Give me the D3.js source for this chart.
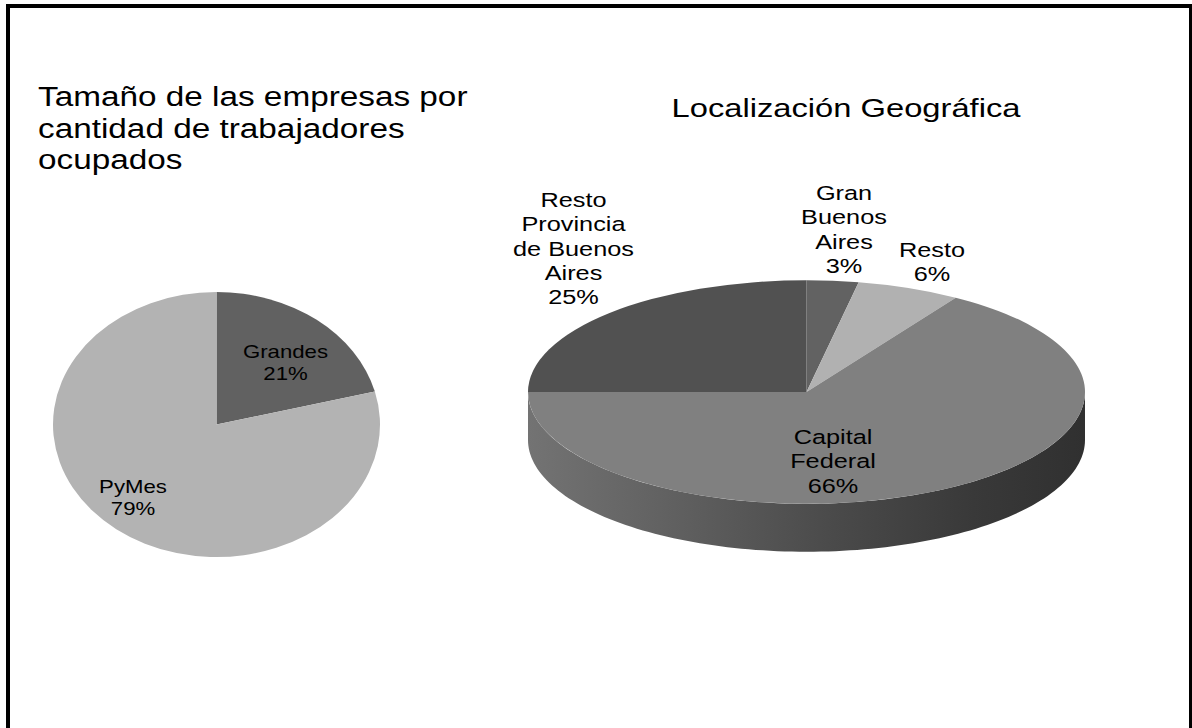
<!DOCTYPE html>
<html>
<head>
<meta charset="utf-8">
<script src="https://cdn.jsdelivr.net/npm/d3@7"></script>
<style>
  html, body { margin: 0; padding: 0; background: #fff; }
  svg { display: block; }
  text { font-family: "Liberation Sans", Arial, sans-serif; fill: #000; }
</style>
</head>
<body>
<script>
// ---------- data ----------
const sizeTitle = ["Tamaño de las empresas por", "cantidad de trabajadores", "ocupados"];
const sizeCategories = ["Grandes", "PyMes"];
const sizeValues = [21, 79];
const sizeLabelLines = [["Grandes", "21%"], ["PyMes", "79%"]];

const geoTitle = "Localización Geográfica";
const geoCategories = ["Gran Buenos Aires", "Resto", "Capital Federal", "Resto Provincia de Buenos Aires"];
const geoValues = [3, 6, 66, 25];
const geoLabelLines = [
  ["Gran", "Buenos", "Aires", "3%"],
  ["Resto", "6%"],
  ["Capital", "Federal", "66%"],
  ["Resto", "Provincia", "de Buenos", "Aires", "25%"]
];

// ---------- styles / layout ----------
const W = 1192, H = 728;
const stretch = 1.234;               // horizontal stretch of the original picture
const sizeColors = ["#616161", "#b3b3b3"];
const geoColors = ["#626262", "#b1b1b1", "#808080", "#515151"];

const svg = d3.select("body").append("svg").attr("width", W).attr("height", H);

// frame
svg.append("rect").attr("x", 8).attr("y", 6).attr("width", 1183).attr("height", 800)
  .attr("fill", "#fff").attr("stroke", "#000").attr("stroke-width", 4);

function stretchedText(g, x, y, str, size, anchor) {
  return g.append("text")
    .attr("transform", `translate(${x},${y}) scale(${stretch},1)`)
    .attr("text-anchor", anchor || "middle")
    .style("font-size", size + "px")
    .text(str);
}
function multiLabel(g, cx, y0, lines, size, lh) {
  lines.forEach((l, i) => stretchedText(g, cx, y0 + i * lh, l, size, "middle"));
}

// ---------- left pie ----------
const left = { cx: 216.5, cy: 424.5, rx: 163.5, ry: 132.5 };
sizeTitle.forEach((t, i) => stretchedText(svg, 38, 106 + i * 31.5, t, 27, "start"));

const pie = d3.pie().sort(null).value(d => d);
const sizeArcs = pie(sizeValues);
const gL = svg.append("g")
  .attr("transform", `translate(${left.cx},${left.cy}) scale(${left.rx / left.ry},1)`);
const arcL = d3.arc().innerRadius(0).outerRadius(left.ry);
gL.selectAll("path").data(sizeArcs).join("path")
  .attr("d", arcL).attr("fill", (d, i) => sizeColors[i]);

const sizeLabelPos = [[285.5, 358], [133, 493]];
sizeArcs.forEach((d, i) => multiLabel(svg, sizeLabelPos[i][0], sizeLabelPos[i][1], sizeLabelLines[i], 18, 21.5));

// ---------- right 3D pie ----------
const right = { cx: 806.5, cy: 392, rx: 278.5, ry: 111.75, depth: 48 };
stretchedText(svg, 846, 116.5, geoTitle, 26.5, "middle");

const defs = svg.append("defs");
const grad = defs.append("linearGradient").attr("id", "sideGrad")
  .attr("gradientUnits", "userSpaceOnUse")
  .attr("x1", right.cx - right.rx).attr("x2", right.cx + right.rx)
  .attr("y1", 0).attr("y2", 0);
[[0, "#737373"], [0.25, "#616161"], [0.55, "#4a4a4a"], [0.8, "#393939"], [1, "#303030"]]
  .forEach(s => grad.append("stop").attr("offset", s[0]).attr("stop-color", s[1]));

const geoArcs = pie(geoValues);
const ex = a => right.cx + right.rx * Math.sin(a);
const ey = a => right.cy - right.ry * Math.cos(a);

// side walls (front half only)
const gSide = svg.append("g");
geoArcs.forEach((d, i) => {
  const a0 = Math.max(d.startAngle, Math.PI / 2);
  const a1 = Math.min(d.endAngle, 3 * Math.PI / 2);
  if (a1 <= a0) return;
  const n = 120;
  const angs = d3.range(n + 1).map(k => a0 + (a1 - a0) * k / n);
  const top = angs.map(a => [ex(a), ey(a)]);
  const bot = angs.slice().reverse().map(a => [ex(a), ey(a) + right.depth]);
  gSide.append("path")
    .attr("d", "M" + top.concat(bot).map(p => p.join(",")).join("L") + "Z")
    .attr("fill", "url(#sideGrad)");
});

// top face
const gR = svg.append("g")
  .attr("transform", `translate(${right.cx},${right.cy}) scale(${right.rx / right.ry},1)`);
const arcR = d3.arc().innerRadius(0).outerRadius(right.ry);
gR.selectAll("path").data(geoArcs).join("path")
  .attr("d", arcR).attr("fill", (d, i) => geoColors[i]);

const geoLabelPos = [[844, 200], [932, 257], [833, 444], [573.5, 207]];
geoArcs.forEach((d, i) => multiLabel(svg, geoLabelPos[i][0], geoLabelPos[i][1], geoLabelLines[i], 20.5, 24.3));
</script>
</body>
</html>
